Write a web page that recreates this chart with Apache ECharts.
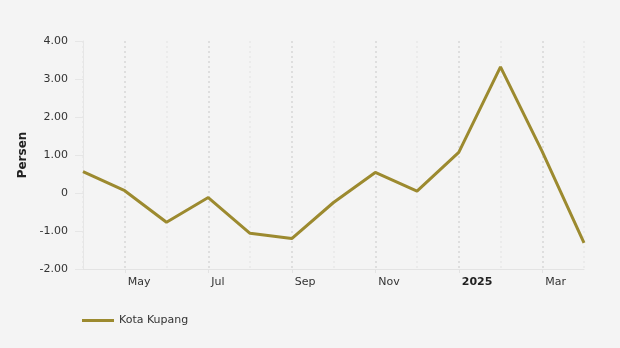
<!DOCTYPE html>
<html>
<head>
<meta charset="utf-8">
<script src="https://cdn.jsdelivr.net/npm/echarts@6/dist/echarts.min.js"></script>
<style>
  html, body { margin: 0; padding: 0; background: #f4f4f4; }
  #chart { width: 620px; height: 348px; }
</style>
</head>
<body>
<div id="chart"></div>
<script>
// Monthly values, April 2024 – April 2025
const months = ['2024-04', '2024-05', '2024-06', '2024-07', '2024-08', '2024-09', '2024-10',
                '2024-11', '2024-12', '2025-01', '2025-02', '2025-03', '2025-04'];
const monthLabels = ['Apr', 'May', 'Jun', 'Jul', 'Aug', 'Sep', 'Oct', 'Nov', 'Dec', '2025', 'Feb', 'Mar', 'Apr'];
const kotaKupang = [0.56, 0.06, -0.77, -0.12, -1.06, -1.20, -0.25, 0.54, 0.05, 1.07, 3.32, 1.09, -1.31];
const seriesName = 'Kota Kupang';
const yTicks = { min: -2, max: 4, step: 1 };

const FONT = 'DejaVu Sans, Verdana, sans-serif';
const chart = echarts.init(document.getElementById('chart'), null, { renderer: 'canvas' });

chart.setOption({
  backgroundColor: '#f4f4f4',
  animation: false,
  textStyle: { fontFamily: FONT },
  grid: { left: 83, right: 36, top: 41, bottom: 79, containLabel: false },
  legend: {
    left: 77, top: 310,
    itemWidth: 32, itemHeight: 3, itemGap: 10,
    icon: 'rect',
    textStyle: { fontFamily: FONT, fontSize: 11, color: '#333' },
    data: [seriesName]
  },
  xAxis: {
    type: 'category',
    data: months,
    boundaryGap: false,
    axisLine: { onZero: false, lineStyle: { color: '#e3e3e3', width: 1 } },
    axisTick: { show: true, alignWithLabel: true, length: 4, lineStyle: { color: '#e3e3e3' } },
    axisLabel: {
      interval: (i) => i % 2 === 1,
      align: 'left',
      padding: [0, 0, 0, 3],
      margin: 8,
      fontFamily: FONT, fontSize: 11, color: '#333',
      formatter: (v, i) => monthLabels[i] === '2025' ? '{b|2025}' : monthLabels[i],
      rich: { b: { fontFamily: FONT, fontSize: 11, fontWeight: 'bold', color: '#222' } }
    },
    splitLine: {
      show: true,
      interval: 0,
      lineStyle: { color: ['#ebebeb', '#dedede'], type: [2, 3], width: 2 }
    }
  },
  yAxis: {
    type: 'value',
    min: yTicks.min, max: yTicks.max, interval: yTicks.step,
    name: 'Persen',
    nameLocation: 'middle',
    nameGap: 52,
    nameRotate: 90,
    nameTextStyle: { fontFamily: FONT, fontSize: 12, fontWeight: 'bold', color: '#222' },
    axisLine: { show: true, lineStyle: { color: '#e6e6e6' } },
    axisTick: { show: true, length: 8, lineStyle: { color: '#e6e6e6' } },
    axisLabel: {
      margin: 15,
      fontFamily: FONT, fontSize: 11, color: '#333',
      formatter: (v) => v === 0 ? '0' : v.toFixed(2)
    },
    splitLine: { show: false }
  },
  series: [{
    name: seriesName,
    type: 'line',
    data: kotaKupang,
    symbol: 'none',
    color: '#9c8a2f',
    lineStyle: { width: 3, color: '#9c8a2f' }
  }]
});
</script>
</body>
</html>
